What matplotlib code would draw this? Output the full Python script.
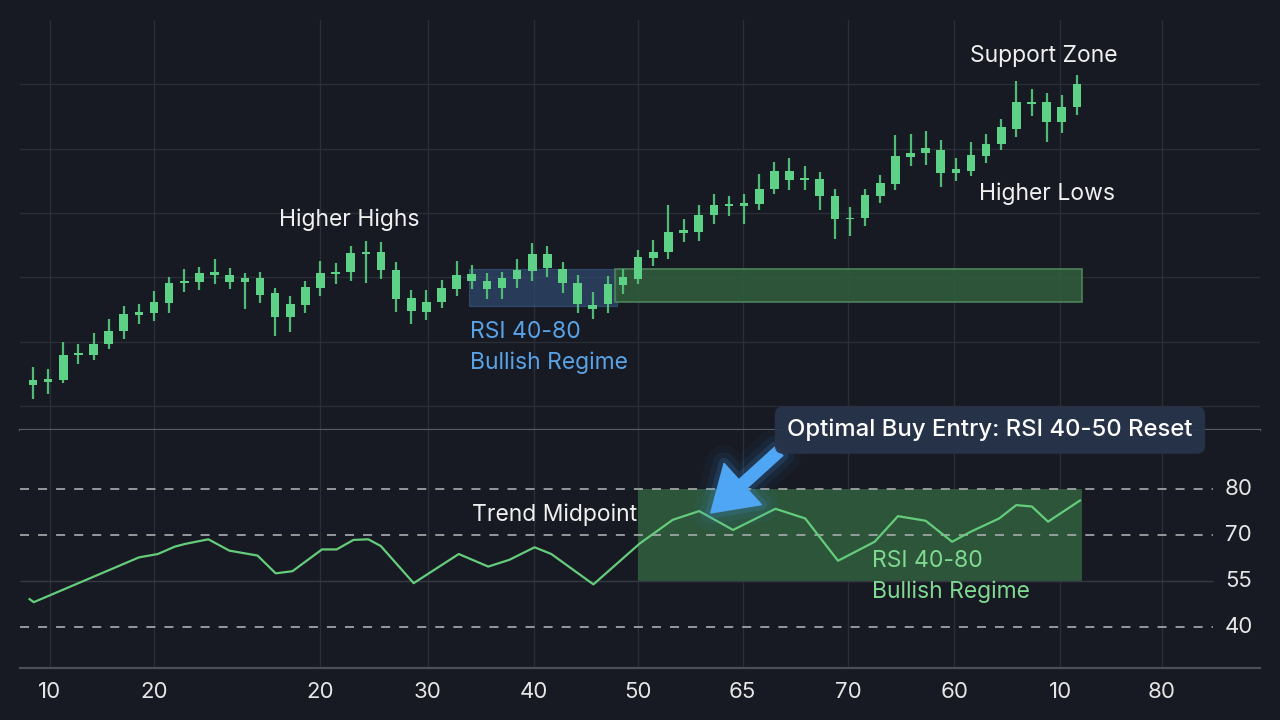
import numpy as np
import matplotlib
matplotlib.use("Agg")
import matplotlib.pyplot as plt
from matplotlib.patches import Rectangle, FancyArrowPatch
import matplotlib.patheffects as pe

plt.rcParams['font.family'] = ['Inter', 'DejaVu Sans']

# ---------------- data ----------------
opens = [103.2, 103.8, 104.1, 107.9, 108.0, 109.6, 111.6, 114.1, 114.4, 116.0,
         119.1, 119.3, 120.3, 119.3, 119.3, 117.3, 113.9, 113.9, 115.7, 118.4,
         120.5, 120.8, 123.6, 121.1, 116.7, 114.7, 114.6, 116.1, 118.2, 119.4,
         118.2, 118.3, 119.8, 121.0, 121.4, 119.1, 115.9, 115.1, 115.9, 118.8,
         119.8, 123.0, 123.9, 126.9, 127.0, 129.7, 131.1, 131.1, 131.4, 133.7,
         135.1, 135.1, 132.6, 129.0, 129.0, 129.3, 132.7, 134.5, 138.7, 139.3,
         136.2, 136.2, 136.6, 138.9, 140.7, 143.1, 146.9, 144.1, 144.1, 146.4]
closes = [104.0, 104.2, 108.0, 108.3, 109.7, 111.7, 114.3, 114.6, 116.1, 119.1,
          119.5, 120.6, 120.8, 120.4, 119.9, 119.9, 117.5, 115.8, 118.5, 120.7,
          120.9, 123.8, 123.9, 123.9, 121.1, 116.8, 116.2, 118.3, 120.3, 120.5,
          119.5, 119.9, 121.1, 123.6, 123.6, 121.3, 119.1, 115.7, 118.9, 120.0,
          123.1, 124.0, 127.1, 127.3, 129.7, 131.2, 131.4, 131.5, 133.8, 136.5,
          136.5, 135.4, 135.3, 132.6, 129.3, 132.8, 134.6, 138.9, 139.4, 140.1,
          139.8, 136.8, 139.0, 140.8, 143.3, 147.2, 147.3, 147.3, 146.5, 150.0]
highs = [106.0, 105.7, 110.0, 109.6, 111.4, 113.5, 115.5, 115.8, 117.9, 120.1,
         121.3, 121.6, 122.8, 121.5, 120.6, 120.9, 118.3, 117.1, 119.5, 122.6,
         122.3, 124.9, 125.7, 125.5, 122.4, 118.1, 118.0, 119.6, 122.6, 121.9,
         120.6, 120.9, 122.9, 125.3, 124.8, 122.4, 120.3, 117.7, 120.2, 121.3,
         124.3, 125.8, 131.2, 129.0, 131.2, 132.9, 132.6, 133.0, 136.0, 138.0,
         138.5, 137.3, 136.3, 133.7, 131.0, 133.8, 135.9, 142.1, 142.3, 142.7,
         141.4, 138.6, 141.1, 142.3, 144.6, 150.5, 149.3, 148.6, 148.3, 151.4]
lows = [101.1, 101.8, 103.6, 106.6, 107.1, 108.8, 110.4, 112.7, 113.2, 114.4,
        117.7, 118.1, 118.9, 118.2, 115.1, 116.0, 110.9, 111.5, 114.4, 117.1,
        119.0, 119.5, 119.1, 119.8, 114.6, 112.7, 113.4, 115.2, 117.1, 118.2,
        116.6, 116.6, 118.4, 119.5, 120.1, 117.5, 114.4, 113.5, 114.5, 117.4,
        119.0, 121.7, 122.9, 125.5, 125.6, 128.3, 129.6, 128.3, 130.5, 133.0,
        133.5, 133.6, 130.4, 125.9, 126.4, 128.0, 131.6, 133.6, 137.3, 137.5,
        134.0, 135.0, 135.7, 137.8, 139.8, 141.8, 145.1, 141.0, 142.5, 145.3]

rsi_x = [-0.23, 0.05, 5.05, 7.0, 8.25, 9.37, 10.06, 11.59, 12.98, 14.84,
         16.04, 17.15, 19.1, 20.07, 21.18, 22.16, 22.99, 25.16, 28.14, 30.09,
         31.48, 33.15, 34.26, 37.04, 40.12, 42.28, 44.03, 46.27, 49.07, 51.04,
         53.21, 55.63, 57.17, 59.0, 60.75, 61.97, 63.86, 64.99, 66.02, 67.09, 69.2]
rsi_vals = [49.1, 48.1, 58.6, 62.7, 63.8, 66.2, 67.1, 68.6, 64.9, 63.3,
            57.5, 58.2, 65.3, 65.3, 68.4, 68.6, 66.4, 54.3, 63.8, 59.7,
            61.9, 66.0, 63.8, 53.9, 67.3, 73.3, 75.2, 71.1, 75.7, 73.6,
            61.6, 67.8, 74.1, 73.1, 67.8, 70.7, 73.6, 76.5, 76.2, 72.9, 77.5]

tick_pos = [1.1, 8.0, 19.0, 26.1, 33.1, 40.0, 46.9, 53.9, 60.9, 67.9, 74.6]
tick_labels = ['10', '20', '20', '30', '40', '50', '65', '70', '60', '10', '80']
rsi_levels = [80, 70, 55, 40]
price_grid = [100, 110, 120, 130, 140, 150]

# ---------------- styling ----------------
BG = '#171a22'
GRID = '#2a2e37'
CANDLE = '#5dd286'
WICK = '#4fbb74'
RSI_LINE = '#65cc7b'
TXT = '#f0f0f0'
BLUE_TXT = '#5aa2e6'
GREEN_TXT = '#80d991'
FS = 16.5


def fwd(v):
    v = np.asarray(v, dtype=float)
    return np.where(v < 55, (v - 40) / 15.0,
                    np.where(v < 70, 1 + (v - 55) / 15.0, 2 + (v - 70) / 10.0))


def inv(p):
    p = np.asarray(p, dtype=float)
    return np.where(p < 1, 40 + 15.0 * p,
                    np.where(p < 2, 55 + 15.0 * (p - 1), 70 + 10.0 * (p - 2)))


fig = plt.figure(figsize=(12.8, 7.2), dpi=100)
fig.patch.set_facecolor(BG)

ax1 = fig.add_axes([20 / 1280, 290 / 720, 1240 / 1280, 410 / 720])
ax2 = fig.add_axes([20 / 1280, 52 / 720, 1240 / 1280, 238 / 720], sharex=ax1)
for ax in (ax1, ax2):
    ax.set_facecolor(BG)
    ax.set_axisbelow(True)
    for s in ax.spines.values():
        s.set_visible(False)
    ax.tick_params(length=0)

x = np.arange(len(opens))
xl = (-0.86, 81.1)
ax1.set_xlim(*xl)

# ---------------- price panel ----------------
ax1.set_ylim(96.27, 160.0)
ax1.set_yticks(price_grid)
ax1.set_xticks(tick_pos)
ax1.grid(True, color=GRID, lw=1.0)
ax1.tick_params(labelleft=False, labelbottom=False)
ax1.spines['bottom'].set_visible(True)
ax1.spines['bottom'].set_color('#585c64')
ax1.spines['bottom'].set_linewidth(1.6)

# regime boxes
ax1.add_patch(Rectangle((28.82, 115.5), 38.6 - 28.82, 121.27 - 115.5,
                        facecolor='#34527e', alpha=0.6, edgecolor='#3f6190',
                        lw=0.8, zorder=1))
ax1.add_patch(Rectangle((38.47, 116.15), 69.33 - 38.47, 121.27 - 116.15,
                        facecolor='#2f5a3b', alpha=0.92, edgecolor='#4f8a5e',
                        lw=1.2, zorder=1))

o = np.array(opens)
c = np.array(closes)
ax1.vlines(x, lows, highs, color=WICK, lw=1.6, zorder=3)
ax1.bar(x, np.maximum(c - o, 0.3), bottom=o, width=0.57, color=CANDLE,
        edgecolor='none', zorder=4)

ax1.text(66.82, 154.4, 'Support Zone', color=TXT, fontsize=FS,
         ha='center', va='center', zorder=6)
ax1.text(20.89, 129.0, 'Higher Highs', color=TXT, fontsize=FS,
         ha='center', va='center', zorder=6)
ax1.text(67.02, 133.0, 'Higher Lows', color=TXT, fontsize=FS,
         ha='center', va='center', zorder=6)
ax1.text(28.88, 111.5, 'RSI 40-80', color=BLUE_TXT, fontsize=FS,
         ha='left', va='center', zorder=6)
ax1.text(28.88, 106.8, 'Bullish Regime', color=BLUE_TXT, fontsize=FS,
         ha='left', va='center', zorder=6)

# ---------------- RSI panel ----------------
ax2.set_yscale('function', functions=(fwd, inv))
ax2.set_ylim(26.63, 92.83)
ax2.set_yticks([])
ax2.set_xticks(tick_pos)
ax2.set_xticklabels(tick_labels)
ax2.grid(True, axis='x', color=GRID, lw=1.0)
ax2.tick_params(axis='x', colors='#e6e6e6', labelsize=16, pad=10)
ax2.spines['bottom'].set_visible(True)
ax2.spines['bottom'].set_color('#4a4e56')
ax2.spines['bottom'].set_linewidth(1.6)

ax2.add_patch(Rectangle((39.99, 55), 69.33 - 39.99, 25,
                        facecolor='#2e5a3c', alpha=0.93, edgecolor='none',
                        zorder=1))

for lv in rsi_levels:
    if lv == 55:
        ax2.hlines(lv, xl[0], 78.0, color='#353941', lw=1.0, zorder=2)
    else:
        ax2.hlines(lv, xl[0], 78.0, color='#9ea4a4', lw=1.3,
                   linestyles=(0, (5, 5)), zorder=2)
    ax2.text(79.7, lv, str(lv), color='#e6e6e6', fontsize=16,
             ha='center', va='center')

ax2.plot(rsi_x, rsi_vals, color=RSI_LINE, lw=1.6, zorder=4)

ax2.text(39.92, 74.4, 'Trend Midpoint', color=TXT, fontsize=FS,
         ha='right', va='center', zorder=6)
ax2.text(55.45, 61.4, 'RSI 40-80', color=GREEN_TXT, fontsize=FS,
         ha='left', va='center', zorder=6)
ax2.text(55.45, 51.6, 'Bullish Regime', color=GREEN_TXT, fontsize=FS,
         ha='left', va='center', zorder=6)

# call-out box
ax2.text(63.25, 92.8, 'Optimal Buy Entry: RSI 40-50 Reset', color='white',
         fontsize=17.2, weight='medium', ha='center', va='center', zorder=10,
         clip_on=False,
         bbox=dict(boxstyle='round,pad=0.52,rounding_size=0.35',
                   facecolor='#28344a', edgecolor='none', alpha=0.93))

arrow = FancyArrowPatch((49.3, 88.2), (44.8, 74.8),
                        arrowstyle='simple,head_length=1.55,head_width=2.0,tail_width=0.42',
                        mutation_scale=20, color='#4fa6f4', shrinkA=0, shrinkB=0,
                        zorder=9, clip_on=False,
                        path_effects=[pe.Stroke(linewidth=26, foreground='#3a8ee6', alpha=0.05),
                                      pe.Stroke(linewidth=16, foreground='#3a8ee6', alpha=0.08),
                                      pe.Stroke(linewidth=8, foreground='#4a9cf0', alpha=0.15),
                                      pe.Normal()])
ax2.add_patch(arrow)

fig.savefig('out.png', dpi=100, facecolor=BG)
